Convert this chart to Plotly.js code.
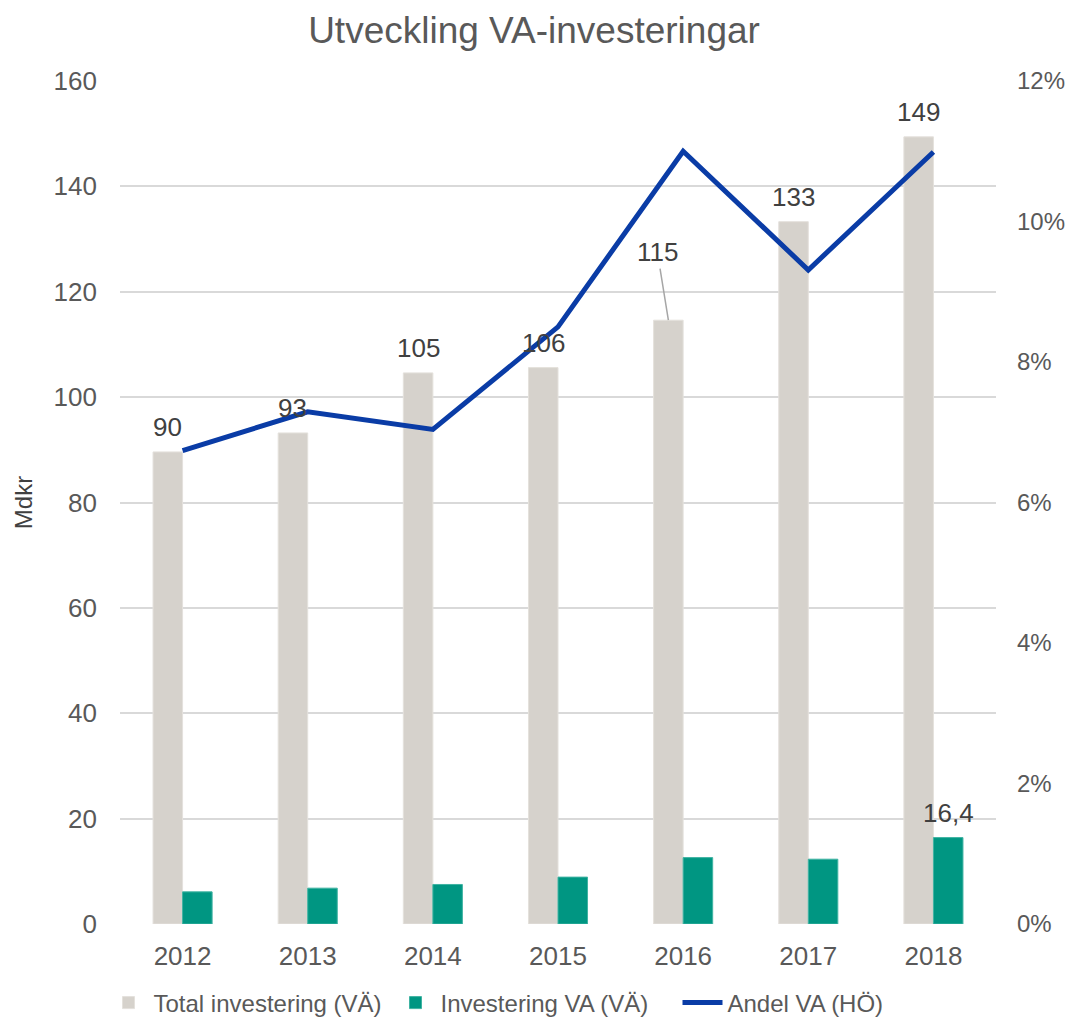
<!DOCTYPE html>
<html>
<head>
<meta charset="utf-8">
<script src="https://cdn.plot.ly/plotly-3.0.1.min.js"></script>
<style>html,body{margin:0;padding:0;background:#fff;}#chart{width:1068px;height:1021px;}</style>
</head>
<body>
<div id="chart"></div>
<script>
// Data
const years = ['2012', '2013', '2014', '2015', '2016', '2017', '2018'];
const totalInvestering = [89.6, 93.2, 104.6, 105.6, 114.6, 133.3, 149.4];
const investeringVA = [6.1, 6.8, 7.5, 8.9, 12.6, 12.3, 16.4];
const andelVA = [0.0674, 0.0729, 0.0704, 0.0850, 0.1100, 0.0931, 0.1099];
const leftTicks = [0, 20, 40, 60, 80, 100, 120, 140, 160];
const rightTicks = [0, 0.02, 0.04, 0.06, 0.08, 0.10, 0.12];
const seriesNames = ['Total investering (VÄ)', 'Investering VA (VÄ)', 'Andel VA (HÖ)'];

const W = 1068, H = 1021;
const margin = {l: 120, r: 72, t: 81, b: 97};
const bargap = 0.528;
const catW = (W - margin.l - margin.r) / years.length;
const barW = catW * (1 - bargap) / 2;

const FONT = '"Liberation Sans", Arial, sans-serif';
const tickColor = '#595959';
const labelColor = '#404040';

const traces = [
  {
    type: 'bar', name: seriesNames[0], x: years, y: totalInvestering,
    marker: {color: '#d6d2cc', line: {color: '#e4e1dc', width: 1}},
    yaxis: 'y', hoverinfo: 'skip'
  },
  {
    type: 'bar', name: seriesNames[1], x: years, y: investeringVA,
    marker: {color: '#009682', line: {color: '#3fb3a2', width: 1}},
    yaxis: 'y', hoverinfo: 'skip'
  },
  {
    type: 'scatter', mode: 'lines', name: seriesNames[2], x: years, y: andelVA,
    line: {color: '#0a3ca6', width: 5}, yaxis: 'y2', hoverinfo: 'skip'
  }
];

// annotations on a category axis: use the category index as x
const annotations = [];
totalInvestering.forEach((v, i) => {
  const txt = String(Math.round(v));
  if (years[i] === '2016') {
    annotations.push({
      x: i, y: v, xref: 'x', yref: 'y', text: txt,
      xshift: -barW / 2, showarrow: true, arrowhead: 0, arrowwidth: 1.5,
      arrowcolor: '#a6a6a6', ax: -11, ay: -68, standoff: 0,
      font: {family: FONT, size: 26, color: labelColor}
    });
  } else {
    annotations.push({
      x: i, y: v, xref: 'x', yref: 'y', text: txt,
      xshift: -barW / 2, yshift: 25, yanchor: 'middle', showarrow: false,
      font: {family: FONT, size: 26, color: labelColor}
    });
  }
});
// Only the last VA value is labelled
const lastIdx = investeringVA.length - 1;
annotations.push({
  x: lastIdx, y: investeringVA[lastIdx], xref: 'x', yref: 'y',
  text: investeringVA[lastIdx].toFixed(1).replace('.', ','),
  xshift: barW / 2, yshift: 25, yanchor: 'middle', showarrow: false,
  font: {family: FONT, size: 26, color: labelColor}
});

const layout = {
  width: W, height: H,
  margin: margin,
  paper_bgcolor: '#ffffff', plot_bgcolor: '#ffffff',
  font: {family: FONT, color: tickColor},
  title: {
    text: 'Utveckling VA-investeringar',
    font: {family: FONT, size: 37, color: tickColor},
    x: 0.5, xref: 'container', xanchor: 'center',
    y: 1 - 30 / H, yref: 'container', yanchor: 'middle'
  },
  barmode: 'group', bargap: bargap, bargroupgap: 0,
  showlegend: true,
  legend: {
    orientation: 'h', x: 0.5, xref: 'container', xanchor: 'center',
    y: 1 - 1003 / H, yref: 'container', yanchor: 'middle',
    font: {family: FONT, size: 24, color: tickColor},
    traceorder: 'normal', itemwidth: 40, entrywidth: 232, entrywidthmode: 'pixels'
  },
  xaxis: {
    type: 'category', categoryorder: 'array', categoryarray: years,
    range: [-0.5, years.length - 0.5], autorange: false,
    showgrid: false, zeroline: false, showline: false, ticks: '',
    tickfont: {family: FONT, size: 26, color: tickColor},
    ticklabelstandoff: 14, fixedrange: true
  },
  yaxis: {
    range: [0, 160], autorange: false, tickvals: leftTicks, ticktext: leftTicks.map(String),
    showgrid: true, gridcolor: '#d9d9d9', gridwidth: 2,
    zeroline: false, showline: false, ticks: '',
    tickfont: {family: FONT, size: 26, color: tickColor},
    ticklabelstandoff: 22,
    title: {text: 'Mdkr', font: {family: FONT, size: 24, color: labelColor}, standoff: 14},
    fixedrange: true
  },
  yaxis2: {
    overlaying: 'y', side: 'right', range: [0, 0.12], autorange: false,
    tickvals: rightTicks, ticktext: rightTicks.map(t => Math.round(t * 100) + '%'),
    showgrid: false, zeroline: false, showline: false, ticks: '',
    tickfont: {family: FONT, size: 24, color: tickColor},
    ticklabelstandoff: 20, fixedrange: true
  },
  annotations: annotations
};

Plotly.newPlot('chart', traces, layout, {displayModeBar: false, staticPlot: true});
</script>
</body>
</html>
